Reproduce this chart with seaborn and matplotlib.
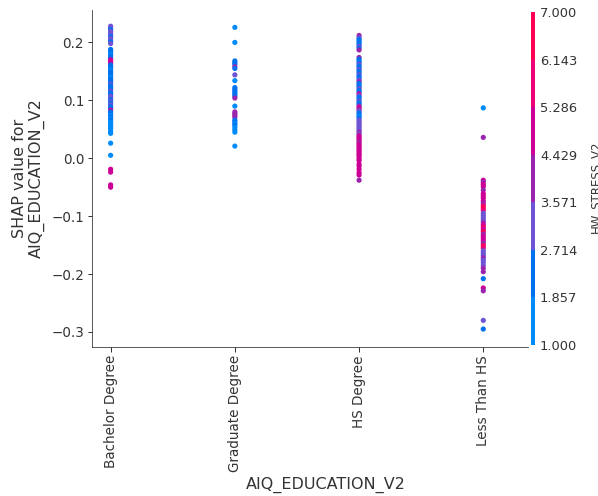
import numpy as np
import pandas as pd
import matplotlib
matplotlib.use("Agg")
import matplotlib.pyplot as plt
import seaborn as sns
from matplotlib.colors import LinearSegmentedColormap, BoundaryNorm
from matplotlib.cm import ScalarMappable

# ---------------- data ----------------
categories = ["Bachelor Degree", "Graduate Degree", "HS Degree", "Less Than HS"]

shap_bach = [0.228, 0.225, 0.222, 0.219, 0.216, 0.213, 0.210, 0.207, 0.204, 0.201, 0.198,
             0.188, 0.185, 0.182, 0.179, 0.176, 0.173, 0.170, 0.167, 0.164, 0.161,
             0.158, 0.155, 0.152, 0.149, 0.146, 0.143, 0.140, 0.137, 0.134, 0.131,
             0.128, 0.125, 0.122, 0.119, 0.116, 0.113, 0.110, 0.107, 0.104, 0.101,
             0.098, 0.095, 0.092, 0.089, 0.086, 0.083, 0.080, 0.077, 0.074, 0.071,
             0.068, 0.065, 0.062, 0.059, 0.056, 0.053, 0.050, 0.046, 0.043,
             0.026, 0.005, -0.019, -0.024, -0.046, -0.050]
stress_bach = [3, 3, 2, 3, 3, 3, 2, 3, 3, 2, 3,
               2, 2, 2, 1, 2, 2, 5, 5, 5, 2,
               2, 2, 1, 2, 2, 2, 1, 2, 2, 2,
               3, 2, 2, 2, 3, 2, 2, 3, 3, 2,
               3, 2, 3, 2, 2, 5, 2, 2, 1, 2,
               1, 2, 1, 1, 1, 1, 1, 1, 1,
               1, 1, 5, 5, 5, 5]

shap_grad = [0.226, 0.200, 0.168, 0.165, 0.162, 0.158, 0.155, 0.144, 0.134, 0.122,
             0.119, 0.116, 0.113, 0.110, 0.107, 0.104, 0.090, 0.080, 0.077, 0.074,
             0.071, 0.066, 0.063, 0.060, 0.057, 0.053, 0.049, 0.045, 0.021]
stress_grad = [1, 1, 2, 2, 2, 4, 2, 3, 1, 2,
               2, 2, 2, 2, 2, 4, 1, 4, 4, 4,
               4, 2, 2, 1, 2, 1, 1, 1, 1]

shap_hs = [0.212, 0.208, 0.205, 0.202, 0.199, 0.196, 0.193, 0.190, 0.187,
           0.174, 0.171, 0.168, 0.165, 0.162, 0.159, 0.156, 0.153, 0.150, 0.147,
           0.144, 0.141, 0.138, 0.135, 0.132, 0.129, 0.126, 0.123, 0.120, 0.117,
           0.114, 0.111, 0.108, 0.105, 0.102, 0.099, 0.096, 0.093, 0.090, 0.087,
           0.084, 0.081, 0.078, 0.075, 0.072, 0.069, 0.066, 0.063, 0.060, 0.057,
           0.054, 0.051, 0.048, 0.045, 0.042, 0.039, 0.036, 0.033, 0.030, 0.027,
           0.024, 0.021, 0.018, 0.015, 0.012, 0.009, 0.006, 0.003, -0.001, -0.004,
           -0.010, -0.014, -0.019, -0.025, -0.029, -0.038]
stress_hs = [4, 3, 2, 2, 2, 2, 3, 2, 4,
             4, 2, 2, 2, 3, 2, 2, 3, 2, 2,
             3, 2, 2, 3, 4, 2, 2, 2, 3, 2,
             2, 5, 3, 2, 2, 3, 2, 2, 4, 5,
             4, 3, 2, 2, 1, 2, 3, 3, 3, 3,
             3, 3, 3, 4, 3, 5, 5, 5, 5, 4,
             5, 5, 5, 5, 5, 5, 5, 5, 5, 5,
             5, 5, 5, 5, 5, 4]

shap_lths = [0.087, 0.036, -0.038, -0.041, -0.045, -0.049, -0.055, -0.061, -0.065, -0.069,
             -0.074, -0.078, -0.082, -0.086, -0.090, -0.095, -0.099, -0.103, -0.107, -0.111,
             -0.115, -0.119, -0.123, -0.127, -0.131, -0.135, -0.139, -0.143, -0.147, -0.151,
             -0.155, -0.160, -0.164, -0.168, -0.172, -0.176, -0.180, -0.185, -0.190, -0.196,
             -0.208, -0.224, -0.229, -0.280, -0.295]
stress_lths = [1, 4, 5, 4, 5, 5, 4, 5, 5, 5,
               5, 4, 6, 7, 6, 3, 3, 3, 3, 4,
               5, 6, 5, 7, 4, 5, 5, 5, 4, 7,
               6, 3, 3, 3, 4, 3, 3, 3, 4, 4,
               2, 5, 4, 3, 2]

stress_ticks = np.linspace(1, 7, 8)

df = pd.concat([
    pd.DataFrame({"AIQ_EDUCATION_V2": categories[0], "shap": shap_bach, "HW_STRESS_V2": stress_bach}),
    pd.DataFrame({"AIQ_EDUCATION_V2": categories[1], "shap": shap_grad, "HW_STRESS_V2": stress_grad}),
    pd.DataFrame({"AIQ_EDUCATION_V2": categories[2], "shap": shap_hs, "HW_STRESS_V2": stress_hs}),
    pd.DataFrame({"AIQ_EDUCATION_V2": categories[3], "shap": shap_lths, "HW_STRESS_V2": stress_lths}),
], ignore_index=True)

# ---------------- SHAP red_blue colormap (LCH interpolation) ----------------
nsteps = 100
l_vals = np.concatenate([np.linspace(54., 40., nsteps // 2), np.linspace(40., 54., nsteps // 2)])
c_vals = np.linspace(70., 90., nsteps)
h_vals = np.linspace(4.6588, 0.35470565 + 2 * np.pi, nsteps)
La, aa, ba = l_vals, c_vals * np.cos(h_vals), c_vals * np.sin(h_vals)
fy = (La + 16.) / 116.
fx = fy + aa / 500.
fz = fy - ba / 200.
def finv(t):
    return np.where(t > 0.2068966, t ** 3, (t - 16. / 116.) / 7.787)
xyz = np.vstack([0.95047 * finv(fx), finv(fy), 1.08883 * finv(fz)])
M = np.array([[3.24048134, -1.53715152, -0.49853633],
              [-0.96925495, 1.87599, 0.04155593],
              [0.05564664, -0.20404134, 1.05731107]])
lin = M @ xyz
lin = np.clip(lin, 0, None)
srgb = np.where(lin > 0.0031308, 1.055 * np.power(lin, 1 / 2.4) - 0.055, 12.92 * lin)
srgb = np.clip(srgb, 0, 1).T
cmap = LinearSegmentedColormap.from_list("red_blue", list(zip(np.linspace(0, 1, nsteps), srgb)))
norm = BoundaryNorm(stress_ticks, cmap.N - 1)
palette = {v: cmap(int(norm(v))) for v in sorted(df["HW_STRESS_V2"].unique())}

# ---------------- figure ----------------
W, H, DPI = 598, 496, 72
TICK_FS, LABEL_FS = 13.5, 16
fig = plt.figure(figsize=(W / DPI, H / DPI), dpi=DPI)
ax = fig.add_axes([92 / W, (H - 347) / H, (528 - 92) / W, (347 - 10) / H])

sns.stripplot(data=df, x="AIQ_EDUCATION_V2", y="shap", hue="HW_STRESS_V2",
              order=categories, palette=palette, jitter=False, dodge=False,
              size=5.2, linewidth=0, legend=False, ax=ax)

axis_color = "#333333"
ax.set_xlim(-0.15, 3.36)
ax.set_ylim(-0.326, 0.256)
ax.set_yticks([-0.3, -0.2, -0.1, 0.0, 0.1, 0.2])
ax.set_xticks(range(len(categories)))
ax.set_xticklabels(categories, rotation=90, fontsize=TICK_FS)
ax.set_xlabel("AIQ_EDUCATION_V2", fontsize=LABEL_FS, color=axis_color)
ax.xaxis.set_label_coords(0.537, -0.385, transform=ax.transAxes)
ax.set_ylabel("SHAP value for\nAIQ_EDUCATION_V2", fontsize=LABEL_FS, color=axis_color, labelpad=6)
ax.tick_params(axis="both", labelsize=TICK_FS, colors=axis_color, labelcolor=axis_color,
               length=4.5, width=1)
ax.spines["top"].set_visible(False)
ax.spines["right"].set_visible(False)
ax.spines["left"].set_color(axis_color)
ax.spines["bottom"].set_color(axis_color)

cax = fig.add_axes([531 / W, (H - 345) / H, 4 / W, (345 - 12) / H])
cb = fig.colorbar(ScalarMappable(norm=norm, cmap=cmap), cax=cax, ticks=stress_ticks, format="%.3f")
cb.outline.set_visible(False)
cb.ax.tick_params(labelsize=13, length=0, pad=5, labelcolor=axis_color)
fig.text(588.5 / W, 1 - 187 / H, "HW_STRESS_V2", rotation=90, ha="left", va="center",
         fontsize=11.8, color=axis_color)

fig.savefig("out.png", dpi=DPI)
